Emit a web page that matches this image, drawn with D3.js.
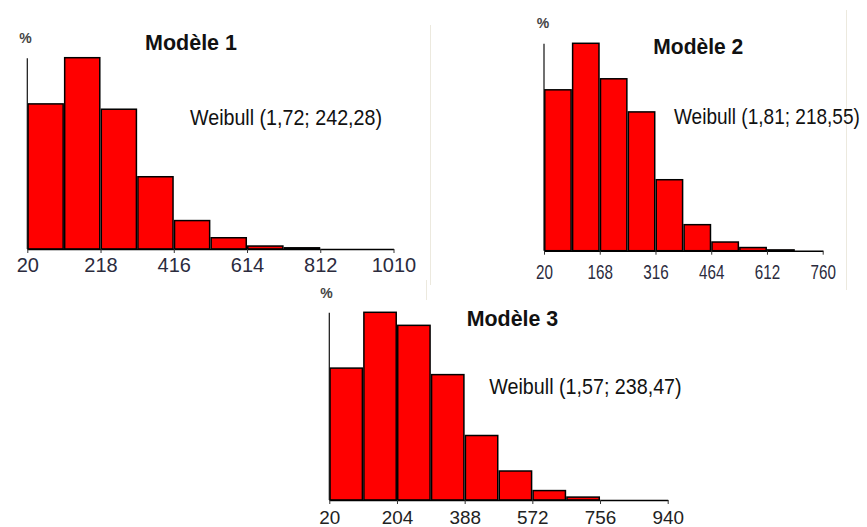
<!DOCTYPE html>
<html>
<head>
<meta charset="utf-8">
<script src="https://cdn.jsdelivr.net/npm/d3@7"></script>
<style>
  body { margin: 0; background: #fff; }
  svg { display: block; font-family: "Liberation Sans", Arial, sans-serif; }
</style>
</head>
<body>
<div id="my_dataviz"></div>
<script>
// Bin edges, bar heights (%) and tick labels for each model
const edges1 = [20, 119, 218, 317, 416, 515, 614, 713, 812, 911, 1010];
const values1 = [24.5, 32.3, 23.6, 12.2, 4.8, 1.9, 0.5, 0.2, 0, 0];
const ticks1 = [20, 218, 416, 614, 812, 1010];

const edges2 = [20, 94, 168, 242, 316, 390, 464, 538, 612, 686, 760];
const values2 = [20.4, 26.3, 21.8, 17.6, 9.0, 3.3, 1.1, 0.4, 0.1, 0];
const ticks2 = [20, 168, 316, 464, 612, 760];

const edges3 = [20, 112, 204, 296, 388, 480, 572, 664, 756, 848, 940];
const values3 = [18.2, 25.9, 24.1, 17.3, 8.9, 4.0, 1.3, 0.4, 0, 0];
const ticks3 = [20, 204, 388, 572, 756, 940];

const titles = ["Modèle 1", "Modèle 2", "Modèle 3"];
const fits = ["Weibull (1,72; 242,28)", "Weibull (1,81; 218,55)", "Weibull (1,57; 238,47)"];

// Layout of each small histogram
const panels = [
  { edges: edges1, values: values1, ticks: ticks1, x0: 27.3, x1: 393.5, base: 249, top: 57.7,
    tickFont: 20, tickScale: 1.0, tickBase: 271.5, tickColor: "#2b2b3d",
    pct: [25.5, 43], title: [145, 49.7, 92], fit: [190, 125.3, 192] },
  { edges: edges2, values: values2, ticks: ticks2, x0: 544, x1: 822.7, base: 250.7, top: 43.3,
    tickFont: 19.5, tickScale: 0.78, tickBase: 279, tickColor: "#2b2b3d",
    pct: [543, 28], title: [653.3, 54, 90], fit: [674, 124, 186] },
  { edges: edges3, values: values3, ticks: ticks3, x0: 329.3, x1: 667.7, base: 500, top: 312.3,
    tickFont: 18, tickScale: 1.05, tickBase: 523.5, tickColor: "#222",
    pct: [326.5, 298], title: [466.7, 326, 91.6], fit: [489.3, 394.3, 192.4] }
];

const svg = d3.select("#my_dataviz")
  .append("svg")
    .attr("width", 867)
    .attr("height", 527);

// faint borders left over from the pasted images
[[430.5, 25, 285], [846.5, 10, 290], [426.5, 280, 300]].forEach(l => {
  svg.append("line")
    .attr("x1", l[0]).attr("x2", l[0])
    .attr("y1", l[1]).attr("y2", l[2])
    .attr("stroke", "#ece9de")
    .attr("stroke-width", 1);
});

// squeeze a text horizontally so it spans w pixels
function fitText(sel, pos, w) {
  const natural = sel.node().getComputedTextLength();
  sel.attr("transform", `translate(${pos[0]}, ${pos[1]}) scale(${w / natural}, 1)`);
}

panels.forEach((p, i) => {
  const x = d3.scaleLinear()
    .domain([p.edges[0], p.edges[p.edges.length - 1]])
    .range([p.x0, p.x1]);
  const y = d3.scaleLinear()
    .domain([0, d3.max(p.values)])
    .range([p.base, p.top]);

  const bins = p.values.map((v, k) => ({ a: p.edges[k], b: p.edges[k + 1], v: v }))
    .filter(d => d.v > 0);

  const g = svg.append("g");

  // bars
  g.selectAll("rect")
    .data(bins)
    .join("rect")
      .attr("x", d => x(d.a) + 0.75)
      .attr("width", d => x(d.b) - x(d.a) - 1.5)
      .attr("y", d => y(d.v))
      .attr("height", d => y(0) - y(d.v))
      .attr("fill", "#ff0000")
      .attr("stroke", "#000")
      .attr("stroke-width", 1.5);

  // X axis
  const ax = g.append("g")
    .attr("transform", `translate(0, ${p.base})`)
    .call(d3.axisBottom(x).tickValues(p.ticks).tickSize(4).tickSizeOuter(0).tickFormat(d3.format("d")));
  ax.select(".domain").attr("stroke", "#000").attr("stroke-width", 1.5);
  ax.selectAll(".tick line").attr("stroke", "#333");
  ax.selectAll(".tick text")
    .attr("y", 0)
    .attr("dy", 0)
    .attr("transform", `translate(0, ${p.tickBase - p.base}) scale(${p.tickScale}, 1)`)
    .attr("fill", p.tickColor)
    .style("font-size", p.tickFont + "px")
    .style("font-family", "'Liberation Sans', Arial, sans-serif");

  // Y axis (plain line, no ticks)
  g.append("line")
    .attr("x1", p.x0).attr("x2", p.x0)
    .attr("y1", y(0)).attr("y2", y(d3.max(p.values)) + 0.5)
    .attr("stroke", "#111")
    .attr("stroke-width", 1.2);

  g.append("text")
    .attr("x", p.pct[0]).attr("y", p.pct[1])
    .attr("text-anchor", "middle")
    .attr("fill", "#444")
    .style("font-size", "14px")
    .style("font-weight", "bold")
    .text("%");

  const t = g.append("text")
    .attr("fill", "#111")
    .style("font-size", "22px")
    .style("font-weight", "bold")
    .text(titles[i]);
  fitText(t, p.title, p.title[2]);

  const f = g.append("text")
    .attr("fill", "#111")
    .style("font-size", "22px")
    .text(fits[i]);
  fitText(f, p.fit, p.fit[2]);
});
</script>
</body>
</html>
